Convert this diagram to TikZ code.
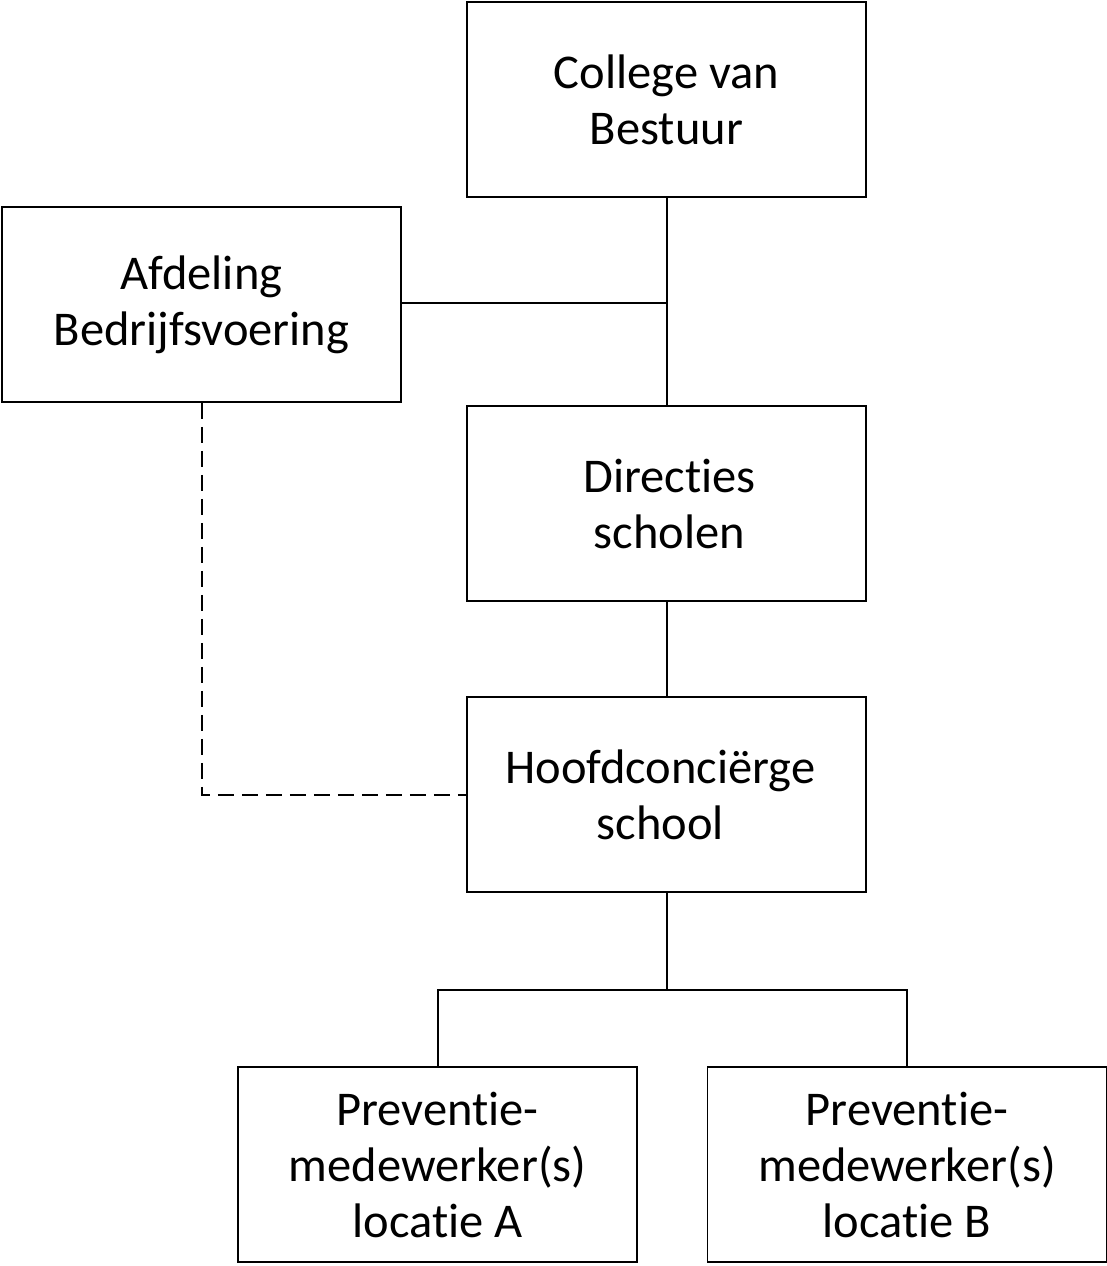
\documentclass[tikz,border=0pt]{standalone}
\usepackage{fontspec}
\setmainfont[Ligatures=NoCommon]{Carlito}
\begin{document}
\begin{tikzpicture}[x=1pt,y=-1pt,
  box/.style={draw=black,line width=1.5pt,minimum width=399pt,minimum height=195pt,inner sep=0pt,align=center,
    font=\fontsize{48.5}{56}\selectfont},
  conn/.style={line width=2pt},
  dconn/.style={line width=2pt,dash pattern=on 16pt off 8pt}]
\useasboundingbox (0,0) rectangle (1106,1266);
\node[box] (cvb) at (666.5,99.5) {College van\\Bestuur};
\node[box] (afd) at (201.5,304.5) {Afdeling\\Bedrijfsvoering};
\node[box] (dir) at (666.5,503.5) {\hspace*{6pt}Directies\\\hspace*{6pt}scholen};
\node[box] (hc) at (666.5,794.5) {\hspace*{-12pt}Hoofdconciërge\\\hspace*{-12pt}school};
\node[box] (pa) at (437.5,1164.5) {Preventie-\\medewerker(s)\\locatie A};
\node[box] (pb) at (907,1164.5) {Preventie-\\medewerker(s)\\locatie B};
\coordinate (j1) at (666.5,303);
\coordinate (j2) at (666.5,990);
\draw[conn] (cvb.south) -- (dir.north);
\draw[conn] (afd.east |- j1) -- (j1);
\draw[conn] (dir.south) -- (hc.north);
\draw[conn] (hc.south) -- (j2);
\draw[conn] (pa.north) |- (j2) -| (pb.north);
\draw[dconn] (afd.south) |- (hc.west);
\end{tikzpicture}
\end{document}
